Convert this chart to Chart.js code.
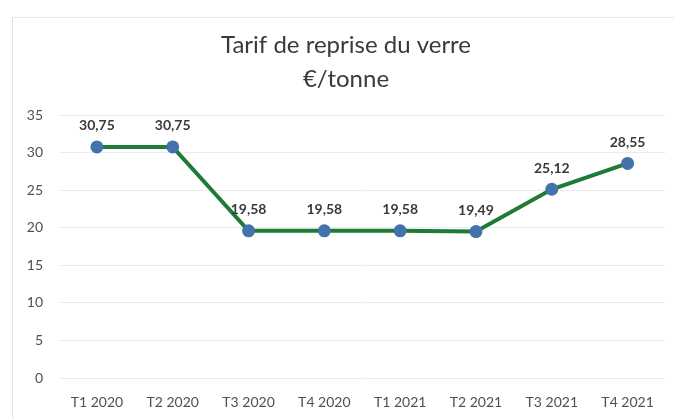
<!DOCTYPE html>
<html lang="fr">
<head>
<meta charset="utf-8">
<script src="https://cdn.jsdelivr.net/npm/chart.js@4"></script>
<style>
    html, body { margin: 0; padding: 0; background: #fff; }
    #wrap { position: relative; width: 674px; height: 419px; }
    #frame {
        position: absolute; left: 12px; top: 17px; right: -2px; bottom: -2px;
        border-left: 1px solid #e2e2e2; border-top: 1px solid #e8e8e8;
    }
    canvas { position: absolute; left: 0; top: 0; }
</style>
</head>
<body>
<div id="wrap">
    <div id="frame"></div>
    <canvas id="tarifChart" width="674" height="419"></canvas>
</div>
<script>
const categories = ['T1 2020', 'T2 2020', 'T3 2020', 'T4 2020', 'T1 2021', 'T2 2021', 'T3 2021', 'T4 2021'];
const tarifValues = [30.75, 30.75, 19.58, 19.58, 19.58, 19.49, 25.12, 28.55];
const yTicks = [0, 5, 10, 15, 20, 25, 30, 35];
const chartTitle = ['Tarif de reprise du verre', '€/tonne'];

const fontFamily = 'Lato, "Open Sans", sans-serif';

// labels above each point, written with a comma as in the source
const valueLabels = {
    id: 'valueLabels',
    afterDatasetsDraw(chart) {
        const ctx = chart.ctx;
        const meta = chart.getDatasetMeta(0);
        ctx.save();
        ctx.font = 'bold 14px ' + fontFamily;
        ctx.fillStyle = '#3a3a3a';
        ctx.textAlign = 'center';
        ctx.textBaseline = 'middle';
        meta.data.forEach((pt, i) => {
            const txt = tarifValues[i].toFixed(2).replace('.', ',');
            ctx.fillText(txt, pt.x, pt.y - 21);
        });
        ctx.restore();
    }
};

new Chart(document.getElementById('tarifChart'), {
    type: 'line',
    data: {
        labels: categories,
        datasets: [{
            data: tarifValues,
            borderColor: '#1f7a36',
            borderWidth: 4,
            pointBackgroundColor: '#4373ad',
            pointBorderColor: '#4373ad',
            pointRadius: 4.5,
            tension: 0
        }]
    },
    options: {
        responsive: false,
        animation: false,
        layout: {
            padding: { top: 0, right: 7, bottom: 0, left: 25 }
        },
        scales: {
            x: {
                offset: true,
                grid: { display: false, drawTicks: false },
                border: { display: false },
                ticks: {
                    padding: 16,
                    color: '#505050',
                    font: { family: fontFamily, size: 14 },
                    maxRotation: 0
                },
                afterFit(scale) { scale.height = 41; }
            },
            y: {
                min: 0,
                max: 35,
                afterBuildTicks(scale) {
                    scale.ticks = yTicks.map(v => ({ value: v }));
                },
                grid: { color: '#ececec', drawTicks: false },
                border: { display: false },
                ticks: {
                    padding: 16,
                    color: '#505050',
                    font: { family: fontFamily, size: 14 }
                },
                afterFit(scale) { scale.width = 34; }
            }
        },
        plugins: {
            legend: { display: false },
            tooltip: { enabled: false },
            title: {
                display: true,
                text: chartTitle,
                color: '#3a3a3a',
                font: { family: fontFamily, size: 24, weight: 'normal', lineHeight: '34px' },
                padding: { top: 28, bottom: 19 }
            }
        }
    },
    plugins: [valueLabels]
});
</script>
</body>
</html>
